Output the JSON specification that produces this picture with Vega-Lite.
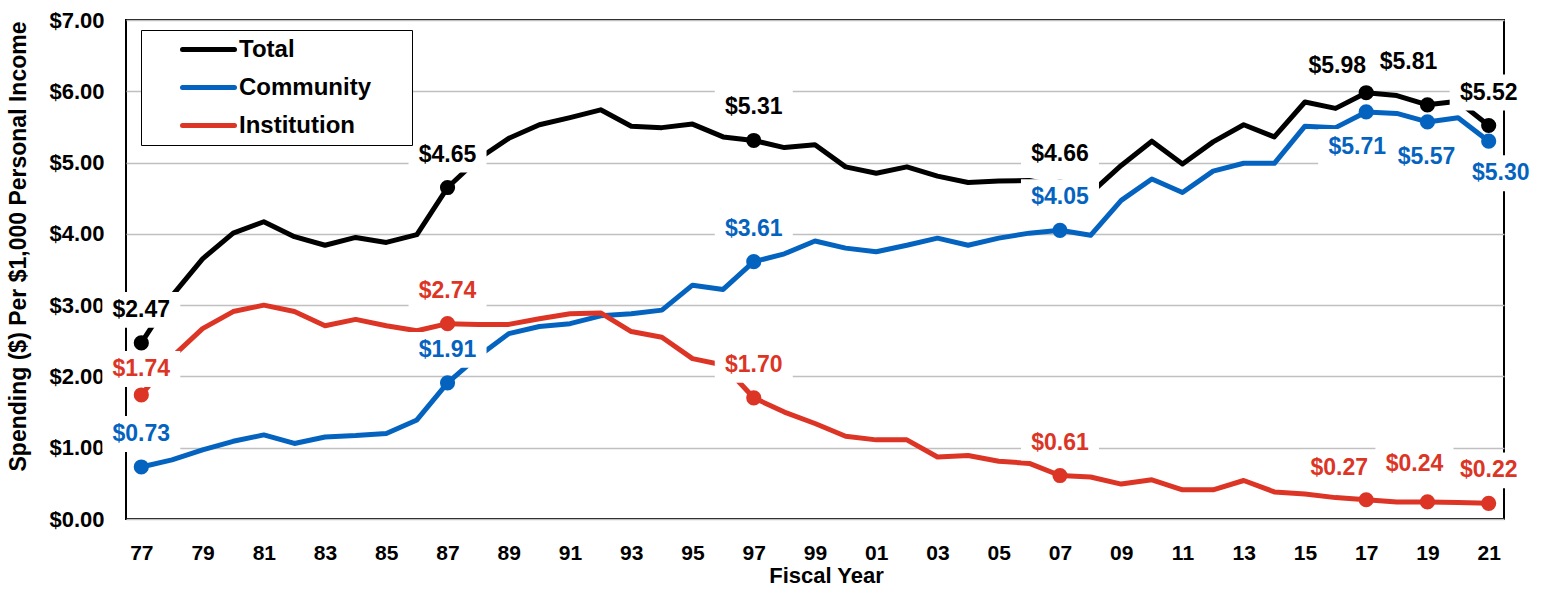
{
  "$schema": "https://vega.github.io/schema/vega-lite/v6.json",
  "width": 1378,
  "height": 499,
  "autosize": {"type": "none"},
  "padding": {"left": 126, "top": 20, "right": 42, "bottom": 70},
  "background": "white",
  "config": {
    "view": {"stroke": "#000000", "strokeWidth": 2},
    "font": "Liberation Sans"
  },
  "data": {"values": [
    {"year":1977,"series":"Total","value":2.47},{"year":1978,"series":"Total","value":3.13},{"year":1979,"series":"Total","value":3.65},{"year":1980,"series":"Total","value":4.01},{"year":1981,"series":"Total","value":4.17},{"year":1982,"series":"Total","value":3.96},{"year":1983,"series":"Total","value":3.84},{"year":1984,"series":"Total","value":3.95},{"year":1985,"series":"Total","value":3.88},{"year":1986,"series":"Total","value":3.99},{"year":1987,"series":"Total","value":4.65},{"year":1988,"series":"Total","value":5.05},{"year":1989,"series":"Total","value":5.34},{"year":1990,"series":"Total","value":5.53},{"year":1991,"series":"Total","value":5.63},{"year":1992,"series":"Total","value":5.74},{"year":1993,"series":"Total","value":5.51},{"year":1994,"series":"Total","value":5.49},{"year":1995,"series":"Total","value":5.54},{"year":1996,"series":"Total","value":5.36},{"year":1997,"series":"Total","value":5.31},{"year":1998,"series":"Total","value":5.21},{"year":1999,"series":"Total","value":5.25},{"year":2000,"series":"Total","value":4.94},{"year":2001,"series":"Total","value":4.85},{"year":2002,"series":"Total","value":4.94},{"year":2003,"series":"Total","value":4.81},{"year":2004,"series":"Total","value":4.72},{"year":2005,"series":"Total","value":4.74},{"year":2006,"series":"Total","value":4.75},{"year":2007,"series":"Total","value":4.66},{"year":2008,"series":"Total","value":4.57},{"year":2009,"series":"Total","value":4.96},{"year":2010,"series":"Total","value":5.30},{"year":2011,"series":"Total","value":4.98},{"year":2012,"series":"Total","value":5.29},{"year":2013,"series":"Total","value":5.53},{"year":2014,"series":"Total","value":5.36},{"year":2015,"series":"Total","value":5.85},{"year":2016,"series":"Total","value":5.76},{"year":2017,"series":"Total","value":5.98},{"year":2018,"series":"Total","value":5.94},{"year":2019,"series":"Total","value":5.81},{"year":2020,"series":"Total","value":5.86},{"year":2021,"series":"Total","value":5.52},
    {"year":1977,"series":"Community","value":0.73},{"year":1978,"series":"Community","value":0.83},{"year":1979,"series":"Community","value":0.97},{"year":1980,"series":"Community","value":1.09},{"year":1981,"series":"Community","value":1.18},{"year":1982,"series":"Community","value":1.06},{"year":1983,"series":"Community","value":1.15},{"year":1984,"series":"Community","value":1.17},{"year":1985,"series":"Community","value":1.20},{"year":1986,"series":"Community","value":1.39},{"year":1987,"series":"Community","value":1.91},{"year":1988,"series":"Community","value":2.28},{"year":1989,"series":"Community","value":2.60},{"year":1990,"series":"Community","value":2.70},{"year":1991,"series":"Community","value":2.74},{"year":1992,"series":"Community","value":2.85},{"year":1993,"series":"Community","value":2.88},{"year":1994,"series":"Community","value":2.93},{"year":1995,"series":"Community","value":3.28},{"year":1996,"series":"Community","value":3.22},{"year":1997,"series":"Community","value":3.61},{"year":1998,"series":"Community","value":3.72},{"year":1999,"series":"Community","value":3.90},{"year":2000,"series":"Community","value":3.80},{"year":2001,"series":"Community","value":3.75},{"year":2002,"series":"Community","value":3.84},{"year":2003,"series":"Community","value":3.94},{"year":2004,"series":"Community","value":3.84},{"year":2005,"series":"Community","value":3.94},{"year":2006,"series":"Community","value":4.01},{"year":2007,"series":"Community","value":4.05},{"year":2008,"series":"Community","value":3.98},{"year":2009,"series":"Community","value":4.47},{"year":2010,"series":"Community","value":4.77},{"year":2011,"series":"Community","value":4.58},{"year":2012,"series":"Community","value":4.88},{"year":2013,"series":"Community","value":4.99},{"year":2014,"series":"Community","value":4.99},{"year":2015,"series":"Community","value":5.51},{"year":2016,"series":"Community","value":5.49},{"year":2017,"series":"Community","value":5.71},{"year":2018,"series":"Community","value":5.69},{"year":2019,"series":"Community","value":5.57},{"year":2020,"series":"Community","value":5.63},{"year":2021,"series":"Community","value":5.30},
    {"year":1977,"series":"Institution","value":1.74},{"year":1978,"series":"Institution","value":2.27},{"year":1979,"series":"Institution","value":2.67},{"year":1980,"series":"Institution","value":2.91},{"year":1981,"series":"Institution","value":3.00},{"year":1982,"series":"Institution","value":2.91},{"year":1983,"series":"Institution","value":2.71},{"year":1984,"series":"Institution","value":2.80},{"year":1985,"series":"Institution","value":2.71},{"year":1986,"series":"Institution","value":2.64},{"year":1987,"series":"Institution","value":2.74},{"year":1988,"series":"Institution","value":2.73},{"year":1989,"series":"Institution","value":2.73},{"year":1990,"series":"Institution","value":2.81},{"year":1991,"series":"Institution","value":2.88},{"year":1992,"series":"Institution","value":2.89},{"year":1993,"series":"Institution","value":2.63},{"year":1994,"series":"Institution","value":2.55},{"year":1995,"series":"Institution","value":2.25},{"year":1996,"series":"Institution","value":2.16},{"year":1997,"series":"Institution","value":1.70},{"year":1998,"series":"Institution","value":1.50},{"year":1999,"series":"Institution","value":1.34},{"year":2000,"series":"Institution","value":1.16},{"year":2001,"series":"Institution","value":1.11},{"year":2002,"series":"Institution","value":1.11},{"year":2003,"series":"Institution","value":0.87},{"year":2004,"series":"Institution","value":0.89},{"year":2005,"series":"Institution","value":0.81},{"year":2006,"series":"Institution","value":0.78},{"year":2007,"series":"Institution","value":0.61},{"year":2008,"series":"Institution","value":0.59},{"year":2009,"series":"Institution","value":0.49},{"year":2010,"series":"Institution","value":0.55},{"year":2011,"series":"Institution","value":0.41},{"year":2012,"series":"Institution","value":0.41},{"year":2013,"series":"Institution","value":0.54},{"year":2014,"series":"Institution","value":0.38},{"year":2015,"series":"Institution","value":0.35},{"year":2016,"series":"Institution","value":0.30},{"year":2017,"series":"Institution","value":0.27},{"year":2018,"series":"Institution","value":0.24},{"year":2019,"series":"Institution","value":0.24},{"year":2020,"series":"Institution","value":0.23},{"year":2021,"series":"Institution","value":0.22}
  ]},
  "encoding": {
    "x": {
      "field": "year", "type": "quantitative",
      "scale": {"domain": [1976.5, 2021.5], "nice": false, "zero": false},
      "axis": {
        "values": [1977,1979,1981,1983,1985,1987,1989,1991,1993,1995,1997,1999,2001,2003,2005,2007,2009,2011,2013,2015,2017,2019,2021],
        "labelExpr": "slice(toString(datum.value), 2)",
        "grid": false, "ticks": false, "tickSize": 0, "domain": false,
        "labelPadding": 23, "labelFont": "Liberation Sans", "labelFontWeight": "bold", "labelFontSize": 21, "labelColor": "#000000",
        "labelFlush": false, "labelOverlap": false,
        "title": "Fiscal Year", "titleFont": "Liberation Sans", "titleFontWeight": "bold", "titleFontSize": 22, "titleColor": "#000000",
        "titleX": 700, "titleY": 46, "titleBaseline": "top"
      }
    },
    "y": {
      "field": "value", "type": "quantitative",
      "scale": {"domain": [0, 7], "nice": false},
      "axis": {
        "values": [0,1,2,3,4,5,6,7], "format": "$.2f",
        "grid": true, "gridColor": "#C0C0C0", "gridWidth": 1.5,
        "ticks": false, "tickSize": 0, "domain": false,
        "labelPadding": 22, "labelFont": "Liberation Sans", "labelFontWeight": "bold", "labelFontSize": 22, "labelColor": "#000000",
        "title": "Spending ($) Per $1,000 Personal Income", "titleFont": "Liberation Sans", "titleFontWeight": "bold", "titleFontSize": 23, "titleColor": "#000000",
        "titleX": -108, "titleY": 226, "titleBaseline": "middle", "titleAngle": -90
      }
    }
  },
  "layer": [
    {
      "mark": {"type": "line", "strokeWidth": 5, "strokeJoin": "round", "strokeCap": "round"},
      "encoding": {
        "color": {
          "field": "series", "type": "nominal",
          "scale": {"domain": ["Total", "Community", "Institution"], "range": ["#000000", "#0563C0", "#DC3526"]},
          "legend": {
            "orient": "none", "legendX": 15, "legendY": 10, "direction": "vertical",
            "title": " ", "titleOrient": "right", "titlePadding": 34, "titleFontSize": 10,
            "symbolType": "stroke", "symbolSize": 400, "symbolStrokeWidth": 5, "symbolOffset": 48,
            "labelFont": "Liberation Sans", "labelFontWeight": "bold", "labelFontSize": 24, "labelColor": "#000000", "labelOffset": 18, "labelLimit": 400,
            "rowPadding": 13, "padding": 7,
            "fillColor": "#FFFFFF", "strokeColor": "#000000",
            "encode": {"symbols": {"update": {"strokeCap": {"value": "round"}, "shape": {"value": "M-2.6,0H2.6"}}}}
          }
        }
      }
    },
    {
      "transform": [{"filter": "indexof([1977,1987,1997,2007,2017,2019,2021], datum.year) >= 0"}],
      "mark": {"type": "point", "filled": true, "size": 230, "opacity": 1, "shape": "circle"},
      "encoding": {"color": {"field": "series", "type": "nominal", "legend": null}}
    },
    {
      "transform": [{"filter": "(datum.series=='Total' && indexof([1977,1987,1997,2007,2021], datum.year)>=0) || (datum.series=='Community' && indexof([1977,1987,1997,2007], datum.year)>=0) || (datum.series=='Institution' && indexof([1987,1997,2007,2021], datum.year)>=0)"}],
      "layer": [
        {"mark": {"type": "point", "shape": "M-1,-0.46H1V0.46H-1Z", "size": 6084, "filled": true, "fill": "#FFFFFF", "strokeWidth": 0, "opacity": 1, "xOffset": 0, "yOffset": -33}},
        {"mark": {"type": "text", "dx": 0, "dy": -33, "font": "Liberation Sans", "fontWeight": "bold", "fontSize": 23, "baseline": "middle"},
         "encoding": {"text": {"field": "value", "type": "quantitative", "format": "$.2f"}, "color": {"field": "series", "type": "nominal", "legend": null}}}
      ]
    },
    {
      "transform": [{"filter": "datum.series=='Institution' && datum.year==1977"}],
      "layer": [
        {"mark": {"type": "point", "shape": "M-1,-0.46H1V0.46H-1Z", "size": 6084, "filled": true, "fill": "#FFFFFF", "strokeWidth": 0, "opacity": 1, "xOffset": 0, "yOffset": -26}},
        {"mark": {"type": "text", "dx": 0, "dy": -26, "font": "Liberation Sans", "fontWeight": "bold", "fontSize": 23, "baseline": "middle"},
         "encoding": {"text": {"field": "value", "type": "quantitative", "format": "$.2f"}, "color": {"field": "series", "type": "nominal", "legend": null}}}
      ]
    },
    {
      "transform": [{"filter": "datum.series=='Total' && datum.year==2017"}],
      "layer": [
        {"mark": {"type": "point", "shape": "M-1,-0.46H1V0.46H-1Z", "size": 6084, "filled": true, "fill": "#FFFFFF", "strokeWidth": 0, "opacity": 1, "xOffset": -29, "yOffset": -27}},
        {"mark": {"type": "text", "dx": -29, "dy": -27, "font": "Liberation Sans", "fontWeight": "bold", "fontSize": 23, "baseline": "middle"},
         "encoding": {"text": {"field": "value", "type": "quantitative", "format": "$.2f"}, "color": {"field": "series", "type": "nominal", "legend": null}}}
      ]
    },
    {
      "transform": [{"filter": "datum.series=='Institution' && datum.year==2017"}],
      "layer": [
        {"mark": {"type": "point", "shape": "M-1,-0.46H1V0.46H-1Z", "size": 6084, "filled": true, "fill": "#FFFFFF", "strokeWidth": 0, "opacity": 1, "xOffset": -27, "yOffset": -32}},
        {"mark": {"type": "text", "dx": -27, "dy": -32, "font": "Liberation Sans", "fontWeight": "bold", "fontSize": 23, "baseline": "middle"},
         "encoding": {"text": {"field": "value", "type": "quantitative", "format": "$.2f"}, "color": {"field": "series", "type": "nominal", "legend": null}}}
      ]
    },
    {
      "transform": [{"filter": "datum.series=='Total' && datum.year==2019"}],
      "layer": [
        {"mark": {"type": "point", "shape": "M-1,-0.46H1V0.46H-1Z", "size": 6084, "filled": true, "fill": "#FFFFFF", "strokeWidth": 0, "opacity": 1, "xOffset": -19, "yOffset": -43}},
        {"mark": {"type": "text", "dx": -19, "dy": -43, "font": "Liberation Sans", "fontWeight": "bold", "fontSize": 23, "baseline": "middle"},
         "encoding": {"text": {"field": "value", "type": "quantitative", "format": "$.2f"}, "color": {"field": "series", "type": "nominal", "legend": null}}}
      ]
    },
    {
      "transform": [{"filter": "datum.series=='Institution' && datum.year==2019"}],
      "layer": [
        {"mark": {"type": "point", "shape": "M-1,-0.46H1V0.46H-1Z", "size": 6084, "filled": true, "fill": "#FFFFFF", "strokeWidth": 0, "opacity": 1, "xOffset": -13, "yOffset": -38}},
        {"mark": {"type": "text", "dx": -13, "dy": -38, "font": "Liberation Sans", "fontWeight": "bold", "fontSize": 23, "baseline": "middle"},
         "encoding": {"text": {"field": "value", "type": "quantitative", "format": "$.2f"}, "color": {"field": "series", "type": "nominal", "legend": null}}}
      ]
    },
    {
      "transform": [{"filter": "datum.series=='Community' && datum.year==2017"}],
      "layer": [
        {"mark": {"type": "point", "shape": "M-1,-0.46H1V0.46H-1Z", "size": 6084, "filled": true, "fill": "#FFFFFF", "strokeWidth": 0, "opacity": 1, "xOffset": -9, "yOffset": 35}},
        {"mark": {"type": "text", "dx": -9, "dy": 35, "font": "Liberation Sans", "fontWeight": "bold", "fontSize": 23, "baseline": "middle"},
         "encoding": {"text": {"field": "value", "type": "quantitative", "format": "$.2f"}, "color": {"field": "series", "type": "nominal", "legend": null}}}
      ]
    },
    {
      "transform": [{"filter": "datum.series=='Community' && datum.year==2019"}],
      "layer": [
        {"mark": {"type": "point", "shape": "M-1,-0.46H1V0.46H-1Z", "size": 6084, "filled": true, "fill": "#FFFFFF", "strokeWidth": 0, "opacity": 1, "xOffset": -1, "yOffset": 35}},
        {"mark": {"type": "text", "dx": -1, "dy": 35, "font": "Liberation Sans", "fontWeight": "bold", "fontSize": 23, "baseline": "middle"},
         "encoding": {"text": {"field": "value", "type": "quantitative", "format": "$.2f"}, "color": {"field": "series", "type": "nominal", "legend": null}}}
      ]
    },
    {
      "transform": [{"filter": "datum.series=='Community' && datum.year==2021"}],
      "layer": [
        {"mark": {"type": "point", "shape": "M-1,-0.46H1V0.46H-1Z", "size": 6084, "filled": true, "fill": "#FFFFFF", "strokeWidth": 0, "opacity": 1, "xOffset": 12, "yOffset": 32}},
        {"mark": {"type": "text", "dx": 12, "dy": 32, "font": "Liberation Sans", "fontWeight": "bold", "fontSize": 23, "baseline": "middle"},
         "encoding": {"text": {"field": "value", "type": "quantitative", "format": "$.2f"}, "color": {"field": "series", "type": "nominal", "legend": null}}}
      ]
    }
  ]
}
